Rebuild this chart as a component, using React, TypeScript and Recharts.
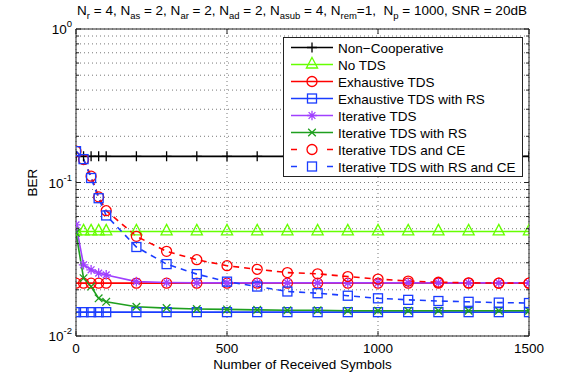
import React from 'react';
import { LineChart, Line, XAxis, YAxis, CartesianGrid, Legend } from 'recharts';

// ---------- data ----------
const symbols = [0, 25, 50, 75, 100, 200, 300, 400, 500, 600, 700, 800, 900, 1000, 1100, 1200, 1300, 1400, 1500];
const nonCooperative = [0.148, 0.148, 0.148, 0.148, 0.148, 0.148, 0.148, 0.148, 0.148, 0.148, 0.148, 0.148, 0.148, 0.148, 0.148, 0.148, 0.148, 0.148, 0.148];
const noTDS = [0.048, 0.048, 0.048, 0.048, 0.048, 0.048, 0.048, 0.048, 0.048, 0.048, 0.048, 0.048, 0.048, 0.048, 0.048, 0.048, 0.048, 0.048, 0.048];
const exhaustiveTDS = [0.0221, 0.0221, 0.0221, 0.0221, 0.0221, 0.0221, 0.0221, 0.0221, 0.0221, 0.0221, 0.0221, 0.0221, 0.0221, 0.0221, 0.0221, 0.0221, 0.0221, 0.0221, 0.0221];
const exhaustiveTDSRS = [0.0143, 0.0143, 0.0143, 0.0143, 0.0143, 0.0143, 0.0143, 0.0143, 0.0143, 0.0143, 0.0143, 0.0143, 0.0143, 0.0143, 0.0143, 0.0143, 0.0143, 0.0143, 0.0143];
const iterativeTDS = [0.053, 0.0291, 0.027, 0.0257, 0.025, 0.0226, 0.0223, 0.0222, 0.0222, 0.0222, 0.0222, 0.0222, 0.0222, 0.0222, 0.0222, 0.0222, 0.0222, 0.0222, 0.0222];
const iterativeTDSRS = [0.047, 0.0238, 0.021, 0.0176, 0.0167, 0.0155, 0.0152, 0.015, 0.0149, 0.0148, 0.0147, 0.0147, 0.0146, 0.0146, 0.0146, 0.0146, 0.0146, 0.0146, 0.0146];
const iterativeTDSCE = [0.16, 0.141, 0.11, 0.0806, 0.0655, 0.0446, 0.0356, 0.0314, 0.0287, 0.0272, 0.0259, 0.0254, 0.0244, 0.0235, 0.0228, 0.0224, 0.0222, 0.0221, 0.0221];
const iterativeTDSRSCE = [0.16, 0.142, 0.107, 0.079, 0.061, 0.038, 0.0294, 0.0253, 0.0226, 0.021, 0.0195, 0.019, 0.0183, 0.0176, 0.0172, 0.0169, 0.0167, 0.0165, 0.0164];

const seriesNames = [
  'Non\u2212Cooperative',
  'No TDS',
  'Exhaustive TDS',
  'Exhaustive TDS with RS',
  'Iterative TDS',
  'Iterative TDS with RS',
  'Iterative TDS and CE',
  'Iterative TDS with RS and CE',
];

const xTicks = [0, 500, 1000, 1500];
const yTicks = [0.01, 0.02, 0.03, 0.04, 0.05, 0.06, 0.07, 0.08, 0.09, 0.1, 0.2, 0.3, 0.4, 0.5, 0.6, 0.7, 0.8, 0.9, 1];
const yMajorTicks = [0.01, 0.1, 1];

const xLabel = 'Number of Received Symbols';
const yLabel = 'BER';

// ---------- styling ----------
const FONT = '"Liberation Sans", Arial, Helvetica, sans-serif';
const FS = 13.5;
const AXIS = '#222';
const BLUE = '#1a3cff';

type Kind = 'plus' | 'triangle' | 'circle' | 'square' | 'asterisk' | 'x';
const SERIES: { key: string; values: number[]; color: string; marker: Kind; dashed: boolean }[] = [
  { key: 's0', values: nonCooperative, color: '#000000', marker: 'plus', dashed: false },
  { key: 's1', values: noTDS, color: '#66ff00', marker: 'triangle', dashed: false },
  { key: 's2', values: exhaustiveTDS, color: '#ff0000', marker: 'circle', dashed: false },
  { key: 's3', values: exhaustiveTDSRS, color: BLUE, marker: 'square', dashed: false },
  { key: 's4', values: iterativeTDS, color: '#a040ff', marker: 'asterisk', dashed: false },
  { key: 's5', values: iterativeTDSRS, color: '#1f9f1f', marker: 'x', dashed: false },
  { key: 's6', values: iterativeTDSCE, color: '#ff0000', marker: 'circle', dashed: true },
  { key: 's7', values: iterativeTDSRSCE, color: BLUE, marker: 'square', dashed: true },
];

const data = symbols.map((s, i) => {
  const row: Record<string, number> = { symbols: s };
  SERIES.forEach((ser) => {
    row[ser.key] = ser.values[i];
  });
  return row;
});

function Marker({ kind, cx, cy, color }: { kind: Kind; cx: number; cy: number; color: string }) {
  const sw = 1.3;
  if (cx == null || cy == null || isNaN(cx) || isNaN(cy)) return null;
  switch (kind) {
    case 'plus':
      return <path d={`M${cx - 5},${cy}H${cx + 5}M${cx},${cy - 5}V${cy + 5}`} stroke={color} strokeWidth={sw} fill="none" />;
    case 'triangle':
      return <path d={`M${cx},${cy - 7}L${cx + 5.6},${cy + 3.5}L${cx - 5.6},${cy + 3.5}Z`} stroke={color} strokeWidth={sw} fill="none" />;
    case 'circle':
      return <circle cx={cx} cy={cy} r={5} stroke={color} strokeWidth={sw} fill="none" />;
    case 'square':
      return <rect x={cx - 4.5} y={cy - 4.5} width={9} height={9} stroke={color} strokeWidth={sw} fill="none" />;
    case 'asterisk': {
      const r = 4.8;
      const d = r * 0.707;
      return (
        <path
          d={`M${cx - r},${cy}H${cx + r}M${cx},${cy - r}V${cy + r}M${cx - d},${cy - d}L${cx + d},${cy + d}M${cx - d},${cy + d}L${cx + d},${cy - d}`}
          stroke={color}
          strokeWidth={sw}
          fill="none"
        />
      );
    }
    case 'x': {
      const r = 3.8;
      return <path d={`M${cx - r},${cy - r}L${cx + r},${cy + r}M${cx - r},${cy + r}L${cx + r},${cy - r}`} stroke={color} strokeWidth={sw} fill="none" />;
    }
  }
  return null;
}

const isMajorY = (v: number) => yMajorTicks.some((m) => Math.abs(m - v) < 1e-9);

const LeftYTick = (props: any) => {
  const { x, y, payload } = props;
  const v = payload.value;
  const major = isMajorY(v);
  const exp = Math.round(Math.log10(v));
  return (
    <g>
      <line x1={x} x2={x + (major ? 5 : 3)} y1={y} y2={y} stroke={AXIS} strokeWidth={1} />
      {major && (
        <text x={x - 4} y={y + 5} textAnchor="end" fontSize={FS} fontFamily={FONT} fill="#000">
          10
          <tspan dy={-7} fontSize={9.5}>
            {exp === 0 ? '0' : `-${Math.abs(exp)}`}
          </tspan>
        </text>
      )}
    </g>
  );
};

const RightYTick = (props: any) => {
  const { x, y, payload } = props;
  const major = isMajorY(payload.value);
  return <line x1={x} x2={x - (major ? 5 : 3)} y1={y} y2={y} stroke={AXIS} strokeWidth={1} />;
};

const BottomXTick = (props: any) => {
  const { x, y, payload } = props;
  return (
    <g>
      <line x1={x} x2={x} y1={y} y2={y - 5} stroke={AXIS} strokeWidth={1} />
      <text x={x} y={y + 17} textAnchor="middle" fontSize={FS} fontFamily={FONT} fill="#000">
        {payload.value}
      </text>
    </g>
  );
};

const TopXTick = (props: any) => {
  const { x, y } = props;
  return <line x1={x} x2={x} y1={y} y2={y + 5} stroke={AXIS} strokeWidth={1} />;
};

const LegendBox = () => {
  const W = 240;
  const H = 140;
  return (
    <svg width={W} height={H} style={{ display: 'block' }}>
      <rect x={0.5} y={0.5} width={W - 1} height={H - 1} fill="#fff" stroke={AXIS} strokeWidth={1} />
      {SERIES.map((s, i) => {
        const cy = 10.5 + i * 17;
        return (
          <g key={s.key}>
            {s.dashed ? (
              <>
                <line x1={8} x2={14} y1={cy} y2={cy} stroke={s.color} strokeWidth={1.5} />
                <line x1={44} x2={50} y1={cy} y2={cy} stroke={s.color} strokeWidth={1.5} />
              </>
            ) : (
              <line x1={8} x2={50} y1={cy} y2={cy} stroke={s.color} strokeWidth={1.5} />
            )}
            <Marker kind={s.marker} cx={29} cy={cy} color={s.color} />
            <text x={55} y={cy + 5} fontSize={FS} fontFamily={FONT} fill="#000">
              {seriesNames[i]}
            </text>
          </g>
        );
      })}
    </svg>
  );
};

const subStyle: React.CSSProperties = { fontSize: 9.5, verticalAlign: '-4px', lineHeight: 0 };

export default function App() {
  return (
    <div style={{ position: 'absolute', left: 0, top: 0, width: 585, height: 378, background: '#fff' }}>
      <div
        style={{
          position: 'absolute',
          left: 52,
          width: 500,
          top: 2,
          textAlign: 'center',
          fontFamily: FONT,
          fontSize: FS,
          lineHeight: '18px',
          whiteSpace: 'pre',
          color: '#000',
          zIndex: 2,
        }}
      >
        N<sub style={subStyle}>r</sub> = 4, N<sub style={subStyle}>as</sub> = 2, N<sub style={subStyle}>ar</sub> = 2, N
        <sub style={subStyle}>ad</sub> = 2, N<sub style={subStyle}>asub</sub> = 4, N<sub style={subStyle}>rem</sub>=1,  N
        <sub style={subStyle}>p</sub> = 1000, SNR = 20dB
      </div>
      <LineChart width={585} height={378} data={data} margin={{ top: 0, right: 0, bottom: 0, left: 0 }}>
        <CartesianGrid stroke="#555" strokeDasharray="1 3" strokeWidth={0.8} />
        <XAxis
          dataKey="symbols"
          type="number"
          domain={[0, 1500]}
          ticks={xTicks}
          height={42}
          tickSize={0}
          tickMargin={0}
          tickLine={false}
          axisLine={{ stroke: AXIS }}
          tick={<BottomXTick />}
          interval={0}
          allowDataOverflow
          label={{
            content: (p: any) => {
              const vb = p.viewBox;
              return (
                <text x={vb.x + vb.width / 2} y={vb.y + 33} textAnchor="middle" fontSize={FS} fontFamily={FONT} fill="#000">
                  {xLabel}
                </text>
              );
            },
          }}
        />
        <XAxis
          xAxisId="top"
          orientation="top"
          dataKey="symbols"
          type="number"
          domain={[0, 1500]}
          ticks={xTicks}
          height={29}
          tickSize={0}
          tickMargin={0}
          tickLine={false}
          axisLine={{ stroke: AXIS }}
          tick={<TopXTick />}
          interval={0}
          allowDataOverflow
        />
        <YAxis
          scale="log"
          type="number"
          domain={[0.01, 1]}
          ticks={yTicks}
          width={76}
          tickSize={0}
          tickMargin={0}
          tickLine={false}
          axisLine={{ stroke: AXIS }}
          tick={<LeftYTick />}
          interval={0}
          allowDataOverflow
          label={{
            content: (p: any) => {
              const vb = p.viewBox;
              const cx = vb.x + 32;
              const cy = vb.y + vb.height / 2;
              return (
                <text x={cx} y={cy} transform={`rotate(-90 ${cx} ${cy})`} textAnchor="middle" dominantBaseline="central" fontSize={FS} fontFamily={FONT} fill="#000">
                  {yLabel}
                </text>
              );
            },
          }}
        />
        <YAxis
          yAxisId="right"
          orientation="right"
          scale="log"
          type="number"
          domain={[0.01, 1]}
          ticks={yTicks}
          width={56}
          tickSize={0}
          tickMargin={0}
          tickLine={false}
          axisLine={{ stroke: AXIS }}
          tick={<RightYTick />}
          interval={0}
          allowDataOverflow
        />
        {SERIES.map((s) => (
          <Line
            key={s.key}
            type="linear"
            dataKey={s.key}
            name={s.key}
            stroke={s.color}
            strokeWidth={1.6}
            strokeDasharray={s.dashed ? '6 5' : undefined}
            isAnimationActive={false}
            legendType="none"
            dot={(p: any) => <Marker key={`${s.key}-${p.index}`} kind={s.marker} cx={p.cx} cy={p.cy} color={s.color} />}
            activeDot={false}
          />
        ))}
        <Legend
          content={() => <LegendBox />}
          layout="vertical"
          align="center"
          verticalAlign="middle"
          wrapperStyle={{ position: 'absolute', left: 283, top: 37, width: 240, height: 140 }}
        />
      </LineChart>
    </div>
  );
}
